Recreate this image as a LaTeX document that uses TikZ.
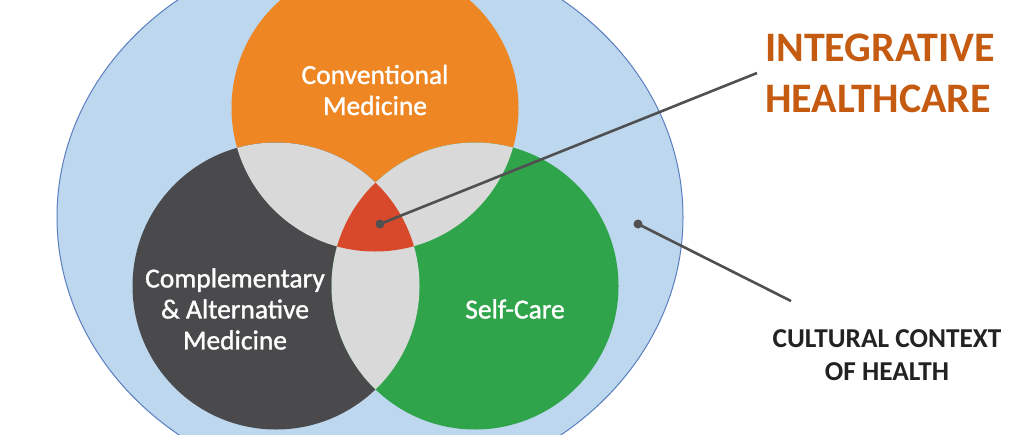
\documentclass[tikz,border=0pt]{standalone}
\usepackage{fontspec}
\setmainfont{Carlito}
\newfontfamily\innerfont[FakeBold=1.2]{Carlito}
\definecolor{outerfill}{HTML}{BDD7EE}
\definecolor{outerline}{HTML}{5A7EBF}
\definecolor{convcol}{HTML}{EE8624}
\definecolor{camcol}{HTML}{4A4A4C}
\definecolor{selfcol}{HTML}{2FA44B}
\definecolor{lenscol}{HTML}{D9D9D9}
\definecolor{integcol}{HTML}{D7492A}
\definecolor{titlecol}{HTML}{C55A11}
\definecolor{leadercol}{HTML}{505050}
\definecolor{labelcol}{HTML}{222222}
\tikzset{
  inlabel/.style={text=white, font=\innerfont\fontsize{27.5}{31}\selectfont, align=center, inner sep=0pt},
  leader/.style={draw=leadercol, line width=2.6pt},
  leaderdot/.style={fill=leadercol},
}
\begin{document}
\begin{tikzpicture}[x=1pt,y=-1pt]
\useasboundingbox (0,0) rectangle (1024,434);
\coordinate (ctr) at (370,217);
\coordinate (cc) at (375,108);
\coordinate (ca) at (276,286);
\coordinate (cs) at (475,286);
\begin{scope}
\clip (0,0) rectangle (1024,434);
\fill[outerfill] (ctr) ellipse [x radius=313pt, y radius=275pt];
\draw[outerline, line width=1pt] (ctr) ellipse [x radius=313pt, y radius=275pt];
\fill[convcol] (cc) circle [radius=143.5pt];
\fill[camcol] (ca) circle [radius=143.5pt];
\fill[selfcol] (cs) circle [radius=143.5pt];
\begin{scope}
\clip (cc) circle [radius=143.5pt];
\fill[lenscol] (ca) circle [radius=143.5pt];
\fill[lenscol] (cs) circle [radius=143.5pt];
\end{scope}
\begin{scope}
\clip (ca) circle [radius=143.5pt];
\fill[lenscol] (cs) circle [radius=143.5pt];
\end{scope}
\begin{scope}
\clip (cc) circle [radius=143.5pt];
\clip (ca) circle [radius=143.5pt];
\fill[integcol] (cs) circle [radius=143.5pt];
\end{scope}
\end{scope}
\node[inlabel] (conv) at (375,90) {Conventional\\Medicine};
\node[inlabel] (cam) at (235,309) {Complementary\\\& Alternative\\Medicine};
\node[inlabel] (self) at (515,309) {Self-Care};
\node[text=titlecol, font=\bfseries\fontsize{42}{51}\selectfont, align=left, anchor=west, inner sep=0pt] (integ) at (765,73) {INTEGRATIVE\\HEALTHCARE};
\node[text=labelcol, font=\bfseries\fontsize{27.3}{33}\selectfont, align=center, inner sep=0pt] (cult) at (887,355) {CULTURAL CONTEXT\\OF HEALTH};
\coordinate (idot) at (380,224);
\coordinate (iend) at (757,73);
\coordinate (cdot) at (638,224);
\coordinate (cend) at (791,301);
\draw[leader] (idot) -- (iend);
\fill[leaderdot] (idot) circle [radius=4.5pt];
\draw[leader] (cdot) -- (cend);
\fill[leaderdot] (cdot) circle [radius=4.5pt];
\end{tikzpicture}
\end{document}
